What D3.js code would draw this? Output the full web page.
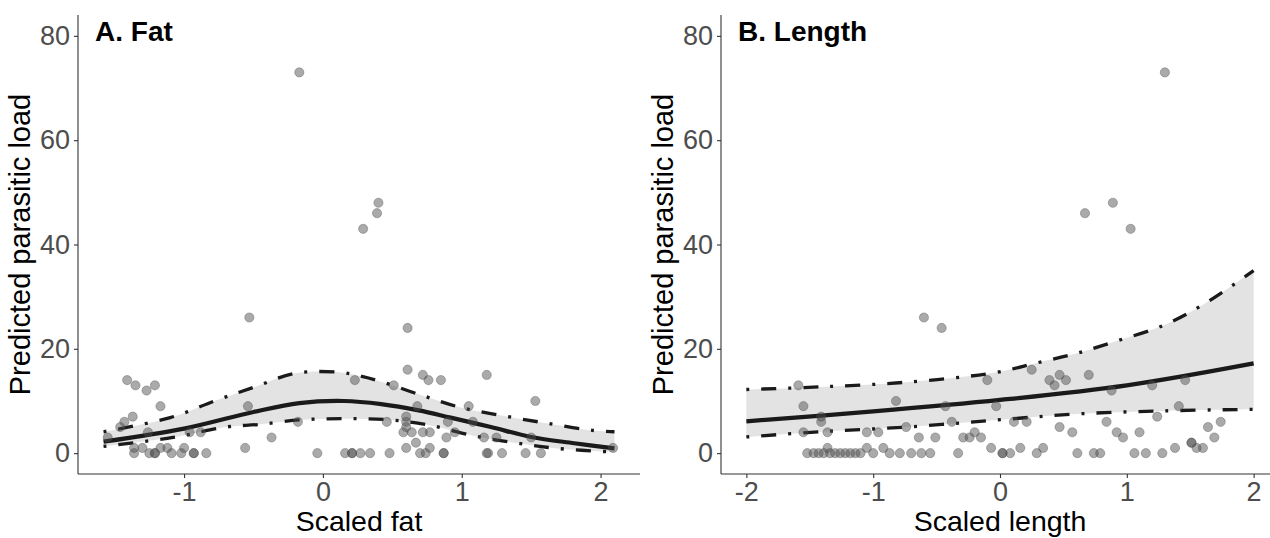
<!DOCTYPE html>
<html lang="en">
  <head>
    <meta charset="UTF-8">
    <title>Predicted parasitic load</title>
    <style>
      body { margin: 0; background: #fff; }
      svg { display: block; font-family: "Liberation Sans", Arial, sans-serif; }
      .tick text { fill: #4d4d4d; font-size: 27px; }
      .tick line, .domain { stroke: #333; stroke-width: 1.1px; }
    </style>
    <script src="https://d3js.org/d3.v7.min.js"></script>
  </head>
  <body>
    <script>
      // y ticks shared by both panels
      var yTicks = [0, 20, 40, 60, 80];
      var fatTicks = [-1, 0, 1, 2];
      var lenTicks = [-2, -1, 0, 1, 2];

      // panel A: observed points
      var fatX = [-1.55,-1.46,-1.43,-1.41,-1.37,-1.35,-1.27,-1.21,-1.17,-1.26,-1.36,-1.30,-1.17,-1.12,-1.00,-0.96,-0.88,
        -1.36,-1.25,-1.21,-1.21,-1.09,-1.02,-0.93,-0.93,-0.84,
        -0.54,-0.53,-0.56,-0.37,-0.18,-0.17,-0.04,
        0.16,0.21,0.21,0.27,0.34,0.48,0.23,0.29,0.39,0.40,0.51,0.46,
        0.61,0.61,0.72,0.76,0.85,0.68,0.60,0.60,0.60,0.58,0.64,0.72,0.77,0.67,0.60,0.77,0.70,0.74,0.87,0.87,
        0.95,0.89,0.90,1.05,1.08,1.16,1.18,1.25,1.50,1.53,2.09,1.18,1.19,1.29,1.46,1.57];
      var fatLoad = [3,5,6,14,7,13,12,13,9,4,1,1,1,1,1,4,4,
        0,0,0,0,0,0,0,0,0,
        9,26,1,3,6,73,0,
        0,0,0,0,0,0,14,43,46,48,13,6,
        24,16,15,14,14,9,7,6,5,4,4,4,4,2,1,1,0,0,0,0,
        4,3,6,9,6,3,15,3,3,10,1,0,0,0,0,0];

      // panel A: fitted curve and confidence limits
      var fatFitX = [-1.58,-1.0,-0.5,-0.17,0.15,0.42,0.69,0.92,1.21,1.5,1.81,2.1];
      var fatFit = [2.2,4.7,7.9,9.6,10,9.4,8.2,6.8,5.0,3.1,1.9,0.9];
      var fatUpX = [-1.58,-1.1,-0.77,-0.49,-0.2,0.12,0.28,0.42,0.71,1.0,1.31,1.62,1.93,2.1];
      var fatUp = [4.1,6.8,10.1,12.7,15.3,15.5,14.7,13.7,11.1,8.7,7.1,5.7,4.4,4.1];
      var fatLowX = [-1.58,-1.08,-0.7,-0.46,-0.15,0.16,0.47,0.76,1.09,1.38,1.69,2.1];
      var fatLow = [1.3,3,5,5.5,6.4,6.6,6.4,5.4,3.3,2,0.9,0.2];

      // panel B: observed points
      var lenX = [0.67,0.89,1.03,1.30,-0.60,-0.46,
        -1.59,-1.55,-1.41,-1.41,-1.55,-1.36,-0.82,-1.05,-0.96,-0.74,-0.64,-0.51,-0.43,-0.38,-0.29,-0.24,-0.20,-0.15,-0.10,-0.03,-0.07,-1.36,-1.05,-0.92,
        0.25,0.39,0.43,0.47,0.52,0.70,0.88,1.20,1.46,1.41,0.11,0.21,0.47,0.57,0.84,0.92,0.97,1.10,1.24,1.64,1.74,1.69,1.51,1.51,1.55,1.60,0.16,0.34,1.38,
        -1.52,-1.47,-1.43,-1.39,-1.34,-1.30,-1.26,-1.22,-1.18,-1.14,-1.10,-1.00,-0.87,-0.79,-0.70,-0.62,-0.55,-0.33,0.02,0.02,0.08,0.29,0.61,0.74,0.79,1.06,1.15,1.28];
      var lenLoad = [46,48,43,73,26,24,
        13,9,7,6,4,4,10,4,4,5,3,3,9,6,3,3,4,3,14,9,1,1,1,1,
        16,14,13,15,14,15,12,13,14,9,6,6,5,4,6,4,3,4,7,5,6,3,2,2,1,1,1,1,1,
        0,0,0,0,0,0,0,0,0,0,0,0,0,0,0,0,0,0,0,0,0,0,0,0,0,0,0,0];

      // panel B: fitted curve and confidence limits
      var lenFitX = [-2,-1,0,1,2];
      var lenFit = [6.1,8.0,10.2,13.0,17.2];
      var lenUpX = [-2,-1.42,-0.74,-0.05,0.29,0.6,0.92,1.29,1.61,2.0];
      var lenUp = [12.2,12.7,13.6,15.4,17.3,19.1,21.5,24.5,28.6,35];
      var lenLowX = [-2,-1.42,-0.74,-0.05,0.6,1.29,2.0];
      var lenLow = [3.1,4.1,5.0,6.3,7.5,8.1,8.4];

      var W = 1270, H = 538;
      var svg = d3.select("body").append("svg")
        .attr("width", W).attr("height", H);

      var y = d3.scaleLinear().domain([-4, 84]).range([474, 15]);

      function zip(xs, ys) {
        return xs.map(function (v, i) { return [v, ys[i]]; });
      }

      function drawPanel(p) {
        var x = d3.scaleLinear().domain(p.xDomain).range(p.xRange);
        var g = svg.append("g");
        var line = d3.line()
          .x(function (d) { return x(d[0]); })
          .y(function (d) { return y(d[1]); })
          .curve(d3.curveCatmullRom.alpha(0.5));

        var up = zip(p.upX, p.up), low = zip(p.lowX, p.low);
        var ribbon = line(up) + "L" + line(low.slice().reverse()).slice(1) + "Z";
        g.append("path").attr("d", ribbon).attr("fill", "#e3e3e3");

        [up, low].forEach(function (ci) {
          g.append("path").attr("d", line(ci))
            .attr("fill", "none").attr("stroke", "#1a1a1a")
            .attr("stroke-width", 3.3)
            .attr("stroke-dasharray", "3,12,15,12");
        });
        g.append("path").attr("d", line(zip(p.fitX, p.fit)))
          .attr("fill", "none").attr("stroke", "#1a1a1a")
          .attr("stroke-width", 4.2);

        g.selectAll("circle.pt").data(zip(p.px, p.py)).enter()
          .append("circle").attr("class", "pt")
          .attr("cx", function (d) { return x(d[0]); })
          .attr("cy", function (d) { return y(d[1]); })
          .attr("r", 4.6)
          .attr("fill", "#4d4d4d").attr("fill-opacity", 0.48)
          .attr("stroke", "#4d4d4d").attr("stroke-opacity", 0.45)
          .attr("stroke-width", 0.8);

        // axes
        var xa = g.append("g").attr("transform", "translate(0,474)")
          .call(d3.axisBottom(x).tickValues(p.xTicks).tickSize(4).tickPadding(4)
            .tickFormat(function (d) { return d < 0 ? "-" + Math.abs(d) : d; }));
        var ya = g.append("g").attr("transform", "translate(" + p.xRange[0] + ",0)")
          .call(d3.axisLeft(y).tickValues(yTicks).tickSize(4).tickPadding(4));
        [xa, ya].forEach(function (a) {
          a.attr("font-family", null).attr("font-size", null);
        });
        xa.select(".domain").attr("d", "M" + p.xRange[0] + ",0H" + p.xRange[1]);
        ya.select(".domain").attr("d", "M0,474V15");

        g.append("text").attr("x", (p.xRange[0] + p.xRange[1]) / 2).attr("y", 531)
          .attr("text-anchor", "middle").attr("font-size", 28.5).attr("fill", "#000")
          .text(p.xTitle);
        g.append("text")
          .attr("transform", "translate(" + (p.xRange[0] - 48) + "," + y(40) + ") rotate(-90)")
          .attr("text-anchor", "middle").attr("font-size", 29).attr("fill", "#000")
          .text("Predicted parasitic load");
        g.append("text").attr("x", p.xRange[0] + 17).attr("y", 41)
          .attr("font-size", 28).attr("font-weight", "bold").attr("fill", "#000")
          .text(p.title);
      }

      drawPanel({
        title: "A. Fat", xTitle: "Scaled fat",
        xDomain: [-1.764, 2.284], xRange: [78, 640], xTicks: fatTicks,
        px: fatX, py: fatLoad,
        fitX: fatFitX, fit: fatFit, upX: fatUpX, up: fatUp, lowX: fatLowX, low: fatLow
      });
      drawPanel({
        title: "B. Length", xTitle: "Scaled length",
        xDomain: [-2.2, 2.2], xRange: [721, 1279], xTicks: lenTicks,
        px: lenX, py: lenLoad,
        fitX: lenFitX, fit: lenFit, upX: lenUpX, up: lenUp, lowX: lenLowX, low: lenLow
      });
    </script>
  </body>
</html>
